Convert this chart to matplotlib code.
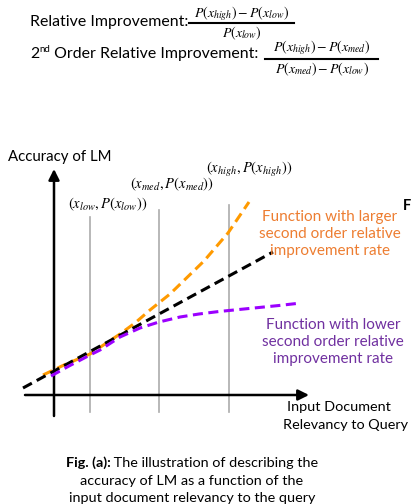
import matplotlib
matplotlib.use("Agg")
import matplotlib.pyplot as plt

plt.rcParams["font.family"] = ["Lato", "DejaVu Sans"]
plt.rcParams["mathtext.fontset"] = "stix"

# Curves (x = document relevancy, y = accuracy)
linear_x = [-31, 219]
linear_y = [7, 143]

larger_x = [-11, 10, 36, 48, 66, 81, 96, 116, 150, 174, 195]
larger_y = [20, 30, 41, 49, 61, 72, 85, 101, 134, 162, 193]

lower_x = [-3, 15, 36, 46, 66, 86, 105, 126, 145, 165, 200, 225, 247]
lower_y = [19, 29, 40, 45, 58, 67, 73, 78, 81, 83.5, 87, 89.5, 92]

# x_low, x_med, x_high guide lines and their label positions
guide_x = [36, 105, 175]
guide_top = [178, 185, 190]
guide_labels = [r"$(x_{low}, P(x_{low}))$",
                r"$(x_{med}, P(x_{med}))$",
                r"$(x_{high}, P(x_{high}))$"]
label_pos = [(54, 191), (118, 211), (195, 225)]

fig = plt.figure(figsize=(4.11, 5.04), dpi=100)

# data axes covering the whole figure (origin of the sketch at pixel 54, 395)
ax = fig.add_axes([0, 0, 1, 1])
ax.set_xlim(-54, 357)
ax.set_ylim(-109, 395)
ax.axis("off")

for gx, gt in zip(guide_x, guide_top):
    ax.plot([gx, gx], [-17, gt], color="#ababab", lw=1.2, zorder=1)

ax.annotate("", xy=(0, 226), xytext=(0, -21),
            arrowprops=dict(arrowstyle="-|>", lw=1.8, color="black", mutation_scale=16,
                            shrinkA=0, shrinkB=0), zorder=2)
ax.annotate("", xy=(255, 0), xytext=(-29, 0),
            arrowprops=dict(arrowstyle="-|>", lw=1.8, color="black", mutation_scale=16,
                            shrinkA=0, shrinkB=0), zorder=2)

ax.plot(larger_x, larger_y, color="#ff9a00", lw=2.2, dashes=(3.3, 1.8), zorder=3)
ax.plot(linear_x, linear_y, color="black", lw=2.2, dashes=(3.3, 1.8), zorder=4)
ax.plot(lower_x, lower_y, color="#9b00ff", lw=2.2, dashes=(3.3, 1.8), zorder=5)

for lab, (lx, ly) in zip(guide_labels, label_pos):
    ax.text(lx, ly, lab, ha="center", va="center", fontsize=10.5)

# text overlay in pixel coordinates
tx = fig.add_axes([0, 0, 1, 1])
tx.set_xlim(0, 411)
tx.set_ylim(504, 0)
tx.axis("off")

fig.canvas.draw()
rend = fig.canvas.get_renderer()


def put_row(x, pieces):
    # pieces: (text, y, kwargs); laid out left to right from x
    for s, y, kw in pieces:
        t = tx.text(x, y, s, ha="left", va="center", **kw)
        x += t.get_window_extent(rend).width


fs_top = 11.4
mfs = 10
tx.text(30, 22, "Relative Improvement:", fontsize=fs_top, va="center", ha="left")
tx.text(242, 14, r"$P(x_{high})-P(x_{low})$", fontsize=mfs, ha="center", va="center")
tx.plot([189, 294], [23, 23], color="black", lw=1.5)
tx.text(242, 33, r"$P(x_{low})$", fontsize=mfs, ha="center", va="center")

put_row(30, [("2", 54, dict(fontsize=fs_top)),
             ("nd", 49, dict(fontsize=7)),
             (" Order Relative Improvement:", 54, dict(fontsize=fs_top))])
tx.text(322, 48, r"$P(x_{high})-P(x_{med})$", fontsize=mfs, ha="center", va="center")
tx.plot([265, 378], [58.5, 58.5], color="black", lw=1.5)
tx.text(322, 69, r"$P(x_{med})-P(x_{low})$", fontsize=mfs, ha="center", va="center")

tx.text(8, 157, "Accuracy of LM", fontsize=10.8, va="center", ha="left")

tx.text(330, 234, "Function with larger\nsecond order relative\nimprovement rate",
        fontsize=11, color="#ed7d31", ha="center", va="center", linespacing=1.25)
tx.text(403, 206, "F", fontsize=10.5, fontweight="bold", ha="left", va="center")
tx.text(333, 342, "Function with lower\nsecond order relative\nimprovement rate",
        fontsize=11, color="#7030a0", ha="center", va="center", linespacing=1.25)

tx.text(287, 407, "Input Document", fontsize=10.4, ha="left", va="center")
tx.text(408, 425, "Relevancy to Query", fontsize=10.4, ha="right", va="center")

cfs = 10.4
probe = [tx.text(0, 0, "Fig. (a):", fontsize=cfs, fontweight="bold"),
         tx.text(0, 0, " The illustration of describing the", fontsize=cfs)]
cap_w = sum(p.get_window_extent(rend).width for p in probe)
for p in probe:
    p.remove()
put_row(192 - cap_w / 2, [("Fig. (a):", 463, dict(fontsize=cfs, fontweight="bold")),
                          (" The illustration of describing the", 463, dict(fontsize=cfs))])
tx.text(192, 481, "accuracy of LM as a function of the", fontsize=cfs, ha="center", va="center")
tx.text(192, 498, "input document relevancy to the query", fontsize=cfs, ha="center", va="center")

fig.savefig("out.png", dpi=100)
